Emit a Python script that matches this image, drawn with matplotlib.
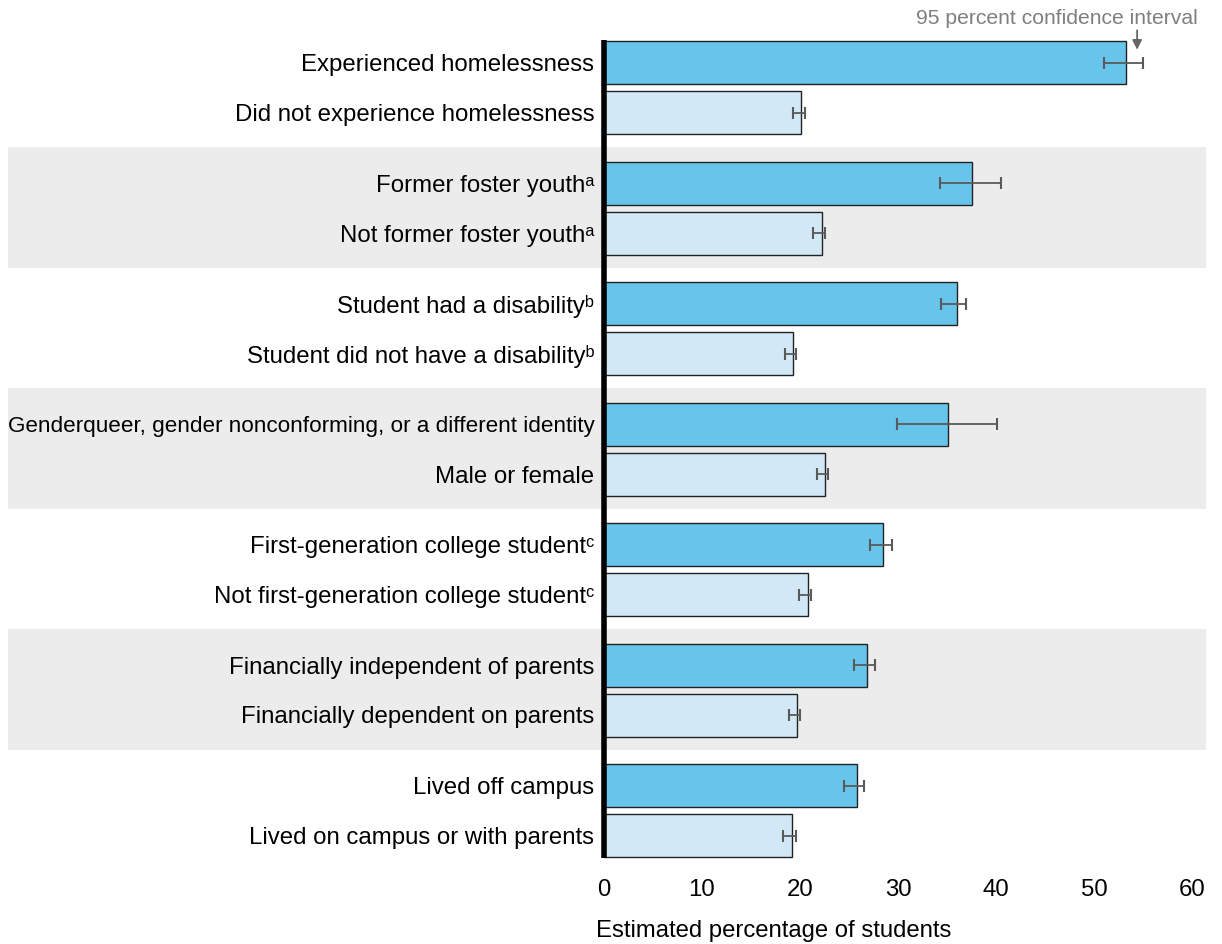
import matplotlib.pyplot as plt

plt.rcParams['font.family'] = ['Liberation Sans', 'DejaVu Sans']

labels = [
    "Experienced homelessness", "Did not experience homelessness",
    "Former foster youth\u1d43", "Not former foster youth\u1d43",
    "Student had a disability\u1d47", "Student did not have a disability\u1d47",
    "Genderqueer, gender nonconforming, or a different identity", "Male or female",
    "First-generation college student\u1d9c", "Not first-generation college student\u1d9c",
    "Financially independent of parents", "Financially dependent on parents",
    "Lived off campus", "Lived on campus or with parents",
]
values = [53.3, 20.1, 37.6, 22.2, 36.0, 19.3, 35.1, 22.6, 28.5, 20.8, 26.8, 19.7, 25.8, 19.2]
ci_low = [51.0, 19.3, 34.3, 21.3, 34.4, 18.5, 29.9, 21.7, 27.1, 19.9, 25.5, 18.9, 24.5, 18.3]
ci_high = [55.0, 20.5, 40.5, 22.6, 36.9, 19.6, 40.1, 22.9, 29.4, 21.1, 27.7, 20.0, 26.5, 19.6]
xticks = [0, 10, 20, 30, 40, 50, 60]

dark = '#67c4ea'
light = '#d2e8f7'
pitch = 2.41

W, H = 1222, 944
fig = plt.figure(figsize=(W / 100, H / 100), dpi=100)
ax = fig.add_axes([604 / W, 1 - 862 / H, (1192 - 604) / W, (862 - 30) / H])

ys = [(i // 2) * pitch + (i % 2) for i in range(len(values))]
colors = [dark if i % 2 == 0 else light for i in range(len(values))]

# shaded bands for every other group, reaching into the label area
xpx = 9.8  # pixels per percent
for g in range(1, 7, 2):
    ax.add_patch(plt.Rectangle(((8 - 604) / xpx, g * pitch - 0.72), (1206 - 8) / xpx, pitch,
                               facecolor='#ececec', edgecolor='none', clip_on=False, zorder=0))

ax.barh(ys, values, height=0.86, color=colors, edgecolor='#222222', linewidth=1.0, zorder=2)
xerr = [[v - lo for v, lo in zip(values, ci_low)], [hi - v for v, hi in zip(values, ci_high)]]
ax.errorbar(values, ys, xerr=xerr, fmt='none', ecolor='#5a5a5a', elinewidth=1.3,
            capsize=4.5, capthick=1.5, zorder=3)

ax.plot([0, 0], [-0.45, 15.91], color='black', lw=4, solid_capstyle='butt', zorder=4, clip_on=False)

ax.set_xlim(0, 60)
ax.set_ylim(15.99, -0.65)
ax.set_yticks(ys)
ax.set_yticklabels(labels, fontsize=17.3)
# the long label is squeezed in the original so it fits the page
ax.get_yticklabels()[6].set_fontsize(16.2)
ax.set_xticks(xticks)
ax.set_xticklabels([str(t) for t in xticks], fontsize=17.3)
ax.tick_params(axis='y', length=0, pad=7)
ax.tick_params(axis='x', length=0, pad=12)
for s in ax.spines.values():
    s.set_visible(False)
ax.patch.set_alpha(0)

fig.text(596 / W, 1 - 937 / H, "Estimated percentage of students", fontsize=17.2, ha='left', va='baseline')

fig.text(1198 / W, 1 - 24 / H, "95 percent confidence interval", fontsize=15.2,
         color='#7f7f7f', ha='right', va='baseline')
ax.annotate("", xy=(54.4, -0.2), xytext=(54.4, -0.7), annotation_clip=False,
            arrowprops=dict(arrowstyle='-|>', color='#666666', lw=1.3, mutation_scale=14))

fig.savefig('out.png', dpi=100)
